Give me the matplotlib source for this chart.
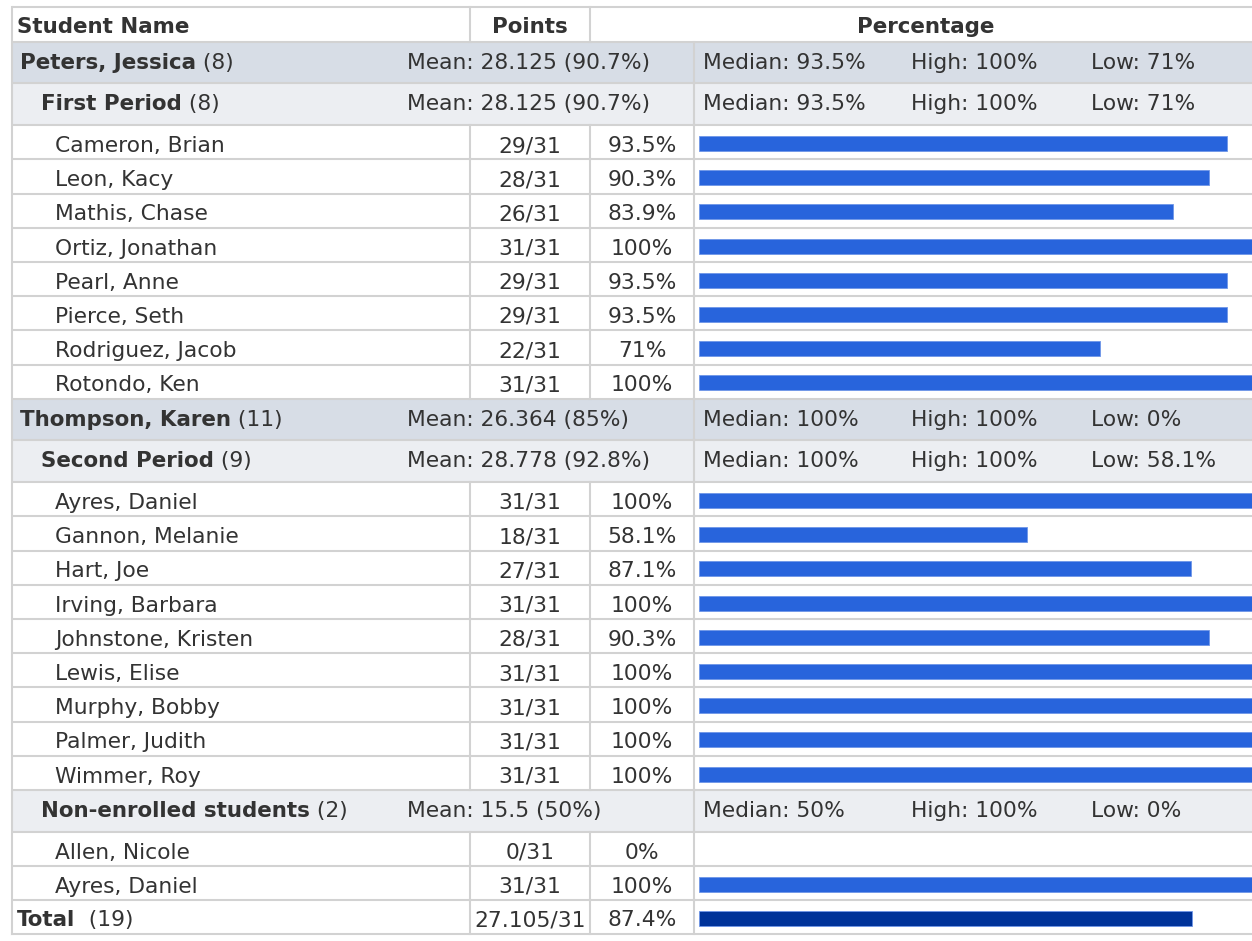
import matplotlib
matplotlib.use("Agg")
import matplotlib.pyplot as plt
from matplotlib.patches import Rectangle

# ---------------- data ----------------
header_labels = ["Student Name", "Points", "Percentage"]
possible_points = 31

teachers = ["Peters, Jessica", "Thompson, Karen"]
teacher_counts = [8, 11]
teacher_means = ["28.125 (90.7%)", "26.364 (85%)"]
teacher_medians = ["93.5%", "100%"]
teacher_highs = ["100%", "100%"]
teacher_lows = ["71%", "0%"]

periods = ["First Period", "Second Period", "Non-enrolled students"]
period_teacher = [0, 1, 1]
period_counts = [8, 9, 2]
period_means = ["28.125 (90.7%)", "28.778 (92.8%)", "15.5 (50%)"]
period_medians = ["93.5%", "100%", "50%"]
period_highs = ["100%", "100%", "100%"]
period_lows = ["71%", "58.1%", "0%"]

students_p1 = ["Cameron, Brian", "Leon, Kacy", "Mathis, Chase", "Ortiz, Jonathan",
               "Pearl, Anne", "Pierce, Seth", "Rodriguez, Jacob", "Rotondo, Ken"]
points_p1 = [29, 28, 26, 31, 29, 29, 22, 31]
pct_p1 = [93.5, 90.3, 83.9, 100, 93.5, 93.5, 71, 100]

students_p2 = ["Ayres, Daniel", "Gannon, Melanie", "Hart, Joe", "Irving, Barbara",
               "Johnstone, Kristen", "Lewis, Elise", "Murphy, Bobby", "Palmer, Judith",
               "Wimmer, Roy"]
points_p2 = [31, 18, 27, 31, 28, 31, 31, 31, 31]
pct_p2 = [100, 58.1, 87.1, 100, 90.3, 100, 100, 100, 100]

students_ne = ["Allen, Nicole", "Ayres, Daniel"]
points_ne = [0, 31]
pct_ne = [0, 100]

period_students = [students_p1, students_p2, students_ne]
period_points = [points_p1, points_p2, points_ne]
period_pcts = [pct_p1, pct_p2, pct_ne]

total_label = "Total"
total_count = 19
total_points = "27.105"
total_pct = 87.4

# ---------------- style / layout ----------------
W, H = 1252, 941
TXT = "#333333"
GRID = "#d2d2d2"
TEACHER_BG = "#d7dde6"
PERIOD_BG = "#eceef2"
BAR = "#2864dc"
BAR_EDGE = "#6f96e8"
TOTAL_BAR = "#003399"
FS = 15.7
FSB = 15.4
LW = 1.5

left, top = 11.5, 7.3
right = W + 20
col1, col2, col3 = 470, 590, 694
h_header, h_group, h_student, h_total = 34.4, 41.7, 34.2, 34.0


def fmt_pct(v):
    s = f"{v:.1f}"
    if s.endswith(".0"):
        s = s[:-2]
    return s + "%"


# build row list
rows = [("header", None)]
for ti, tname in enumerate(teachers):
    rows.append(("teacher", ti))
    for pi, tix in enumerate(period_teacher):
        if tix != ti:
            continue
        rows.append(("period", pi))
        for si in range(len(period_students[pi])):
            rows.append(("student", (pi, si)))
rows.append(("total", None))

heights = {"header": h_header, "teacher": h_group, "period": h_group,
           "student": h_student, "total": h_total}

fig = plt.figure(figsize=(W / 100, H / 100), dpi=100)
ax = fig.add_axes([0, 0, 1, 1])
ax.set_xlim(0, W)
ax.set_ylim(H, 0)
ax.axis("off")

bar_left_px, bar_full_px = 698.5, 565
bx = fig.add_axes([bar_left_px / W, 0, bar_full_px / W, 1])
bx.set_xlim(0, 100)
bx.set_ylim(H, 0)
bx.axis("off")


def label_with_count(x, yb, name, count, gap=" "):
    t = ax.text(x, yb, name, fontsize=FSB, fontweight="bold", color=TXT,
                ha="left", va="baseline")
    ax.annotate(f"{gap}({count})", xy=(1, 0), xycoords=t, fontsize=FS,
                color=TXT, ha="left", va="bottom")


bar_y, bar_w, bar_c = [], [], []
y = top
for kind, idx in rows:
    h = heights[kind]
    yc = y + h / 2
    if kind in ("teacher", "period"):
        bg = TEACHER_BG if kind == "teacher" else PERIOD_BG
        ax.add_patch(Rectangle((left, y), right - left, h, facecolor=bg,
                               edgecolor="none", zorder=0))
    # horizontal line at top of row
    ax.plot([left, right], [y, y], color=GRID, lw=LW, zorder=1,
            solid_capstyle="butt")
    # vertical lines
    if kind in ("header", "student", "total"):
        for cx in (col1, col2):
            ax.plot([cx, cx], [y, y + h], color=GRID, lw=LW, zorder=1)
    if kind != "header":
        ax.plot([col3, col3], [y, y + h], color=GRID, lw=LW, zorder=1)

    if kind == "header":
        yb = yc + 8.8
        ax.text(17, yb, header_labels[0], fontsize=FSB, fontweight="bold",
                color=TXT, ha="left", va="baseline")
        ax.text((col1 + col2) / 2, yb, header_labels[1], fontsize=FSB,
                fontweight="bold", color=TXT, ha="center", va="baseline")
        ax.text((col2 + 1262) / 2, yb, header_labels[2], fontsize=FSB,
                fontweight="bold", color=TXT, ha="center", va="baseline")
    elif kind in ("teacher", "period"):
        yb = yc + 6.2
        if kind == "teacher":
            label_with_count(20, yb, teachers[idx], teacher_counts[idx])
            mean, med, hi, lo = (teacher_means[idx], teacher_medians[idx],
                                 teacher_highs[idx], teacher_lows[idx])
        else:
            label_with_count(41, yb, periods[idx], period_counts[idx])
            mean, med, hi, lo = (period_means[idx], period_medians[idx],
                                 period_highs[idx], period_lows[idx])
        ax.text(407, yb, f"Mean: {mean}", fontsize=FS, color=TXT,
                ha="left", va="baseline")
        ax.text(703, yb, f"Median: {med}", fontsize=FS, color=TXT,
                ha="left", va="baseline")
        ax.text(911, yb, f"High: {hi}", fontsize=FS, color=TXT,
                ha="left", va="baseline")
        ax.text(1091, yb, f"Low: {lo}", fontsize=FS, color=TXT,
                ha="left", va="baseline")
    elif kind == "student":
        pi, si = idx
        yb = yc + 9.8
        ax.text(55, yb, period_students[pi][si], fontsize=FS, color=TXT,
                ha="left", va="baseline")
        ax.text((col1 + col2) / 2, yb,
                f"{period_points[pi][si]}/{possible_points}", fontsize=FS,
                color=TXT, ha="center", va="baseline")
        ax.text((col2 + col3) / 2, yb, fmt_pct(period_pcts[pi][si]),
                fontsize=FS, color=TXT, ha="center", va="baseline")
        bar_y.append(yc + 1.2)
        bar_w.append(period_pcts[pi][si])
        bar_c.append(BAR)
    elif kind == "total":
        yb = yc + 9.3
        label_with_count(17, yb, total_label, total_count, gap="  ")
        ax.text((col1 + col2) / 2, yb, f"{total_points}/{possible_points}",
                fontsize=FS, color=TXT, ha="center", va="baseline")
        ax.text((col2 + col3) / 2, yb, fmt_pct(total_pct), fontsize=FS,
                color=TXT, ha="center", va="baseline")
        bar_y.append(yc + 1.2)
        bar_w.append(total_pct)
        bar_c.append(TOTAL_BAR)
    y += h

# bottom line and left border
ax.plot([left, right], [y, y], color=GRID, lw=LW, zorder=1)
ax.plot([left, left], [top, y], color=GRID, lw=LW, zorder=1)

# bars (skip zero-width)
nz = [i for i, w in enumerate(bar_w) if w > 0]
bx.barh([bar_y[i] for i in nz], [bar_w[i] for i in nz], height=15,
        left=0, color=[bar_c[i] for i in nz], edgecolor=BAR_EDGE,
        linewidth=0.6, zorder=3)

fig.savefig("out.png", dpi=100)
